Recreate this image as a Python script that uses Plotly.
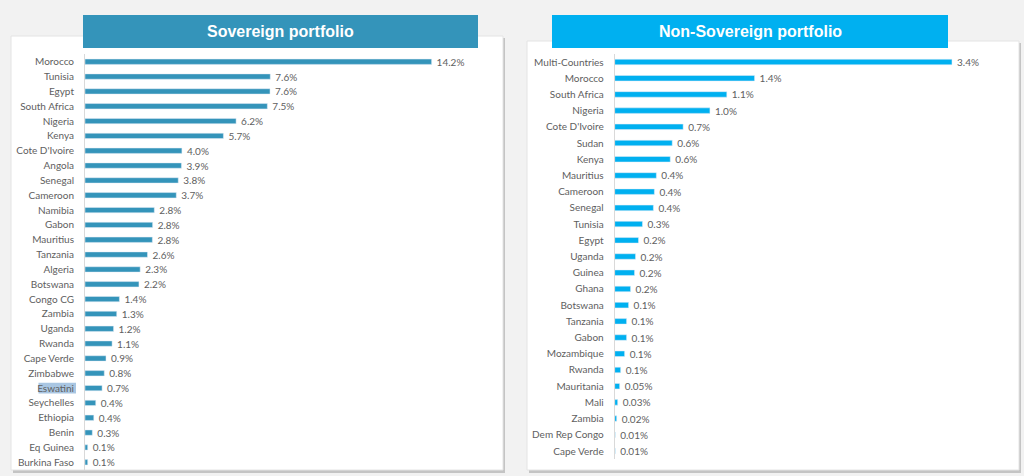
import plotly.graph_objects as go

sov_countries = ["Morocco", "Tunisia", "Egypt", "South Africa", "Nigeria", "Kenya",
                 "Cote D'Ivoire", "Angola", "Senegal", "Cameroon", "Namibia", "Gabon",
                 "Mauritius", "Tanzania", "Algeria", "Botswana", "Congo CG", "Zambia",
                 "Uganda", "Rwanda", "Cape Verde", "Zimbabwe", "Eswatini", "Seychelles",
                 "Ethiopia", "Benin", "Eq Guinea", "Burkina Faso"]
sov_values = [14.2, 7.59, 7.58, 7.47, 6.19, 5.67, 3.97, 3.95, 3.82, 3.74, 2.84, 2.77,
              2.76, 2.56, 2.26, 2.21, 1.41, 1.30, 1.17, 1.11, 0.86, 0.79, 0.70, 0.44,
              0.36, 0.30, 0.11, 0.11]
sov_labels = ["14.2%", "7.6%", "7.6%", "7.5%", "6.2%", "5.7%", "4.0%", "3.9%", "3.8%",
              "3.7%", "2.8%", "2.8%", "2.8%", "2.6%", "2.3%", "2.2%", "1.4%", "1.3%",
              "1.2%", "1.1%", "0.9%", "0.8%", "0.7%", "0.4%", "0.4%", "0.3%", "0.1%", "0.1%"]

non_countries = ["Multi-Countries", "Morocco", "South Africa", "Nigeria", "Cote D'Ivoire",
                 "Sudan", "Kenya", "Mauritius", "Cameroon", "Senegal", "Tunisia", "Egypt",
                 "Uganda", "Guinea", "Ghana", "Botswana", "Tanzania", "Gabon", "Mozambique",
                 "Rwanda", "Mauritania", "Mali", "Zambia", "Dem Rep Congo", "Cape Verde"]
non_values = [3.4, 1.41, 1.13, 0.96, 0.69, 0.58, 0.56, 0.42, 0.40, 0.39, 0.28, 0.24,
              0.21, 0.20, 0.16, 0.14, 0.12, 0.12, 0.10, 0.06, 0.05, 0.03, 0.02, 0.005, 0.005]
non_labels = ["3.4%", "1.4%", "1.1%", "1.0%", "0.7%", "0.6%", "0.6%", "0.4%", "0.4%",
              "0.4%", "0.3%", "0.2%", "0.2%", "0.2%", "0.2%", "0.1%", "0.1%", "0.1%",
              "0.1%", "0.1%", "0.05%", "0.03%", "0.02%", "0.01%", "0.01%"]

titles = ["Sovereign portfolio", "Non-Sovereign portfolio"]
SOV_COLOR = "#3494BA"
NON_COLOR = "#00B0F0"
TXT = "#606060"
FONT = "Lato"
GAP = "\u2002"

W, H = 1024, 476
def px(x):
    return x / W
def py(y):
    return 1 - y / H

fig = go.Figure()
fig.add_trace(go.Bar(
    x=sov_values, y=sov_countries, orientation="h", marker_color=SOV_COLOR,
    text=[GAP + s for s in sov_labels], textposition="outside", cliponaxis=False,
    constraintext="none",
    textfont=dict(family=FONT, size=10, color=TXT), width=0.36,
    xaxis="x", yaxis="y", hoverinfo="skip", showlegend=False))
fig.add_trace(go.Bar(
    x=non_values, y=non_countries, orientation="h", marker_color=NON_COLOR,
    text=[GAP + s for s in non_labels], textposition="outside", cliponaxis=False,
    constraintext="none",
    textfont=dict(family=FONT, size=10, color=TXT), width=0.34,
    xaxis="x2", yaxis="y2", hoverinfo="skip", showlegend=False))

n1 = len(sov_countries)
n2 = len(non_countries)
fig.update_layout(
    width=W, height=H, margin=dict(l=0, r=0, t=0, b=0),
    paper_bgcolor="#F2F2F2", plot_bgcolor="rgba(0,0,0,0)",
    font=dict(family=FONT, size=10, color=TXT),
    xaxis=dict(domain=[px(85), px(85 + 16 * 24.41)], range=[0, 16], visible=False),
    yaxis=dict(domain=[py(469.7), py(54.3)], range=[n1 - 0.5, -0.5], type="category",
               showline=True, linecolor="#D9D9D9", linewidth=1, ticks="",
               showgrid=False, ticklabelstandoff=8, anchor="x",
               tickfont=dict(family=FONT, size=10, color=TXT)),
    xaxis2=dict(domain=[px(614.7), px(614.7 + 3.8 * 99.2)], range=[0, 3.8], visible=False,
                anchor="y2"),
    yaxis2=dict(domain=[py(459.1), py(53.9)], range=[n2 - 0.5, -0.5], type="category",
                showline=True, linecolor="#D9D9D9", linewidth=1, ticks="",
                showgrid=False, ticklabelstandoff=8, anchor="x2",
                tickfont=dict(family=FONT, size=10, color=TXT)),
)

shapes = []
# cards with shadow
for (x0, y0, x1, y1) in [(11, 36, 503, 470), (527, 41, 1019, 470)]:
    shapes.append(dict(type="rect", xref="paper", yref="paper", layer="below",
                       x0=px(x0 + 2), x1=px(x1 + 2), y0=py(y1 + 3), y1=py(y0 + 2),
                       fillcolor="#C4C4C4", line_width=0))
    shapes.append(dict(type="rect", xref="paper", yref="paper", layer="below",
                       x0=px(x0), x1=px(x1), y0=py(y1), y1=py(y0),
                       fillcolor="#FFFFFF", line=dict(color="#E4E4E4", width=1)))
# headers
headers = [(83, 15, 478, 48, SOV_COLOR), (552, 15, 948, 48, NON_COLOR)]
for (x0, y0, x1, y1, c), t in zip(headers, titles):
    shapes.append(dict(type="rect", xref="paper", yref="paper", layer="above",
                       x0=px(x0), x1=px(x1), y0=py(y1), y1=py(y0),
                       fillcolor=c, line_width=0))
    fig.add_annotation(x=px((x0 + x1) / 2), y=py((y0 + y1) / 2), xref="paper", yref="paper",
                       text="<b>" + t + "</b>", showarrow=False, xanchor="center",
                       yanchor="middle",
                       font=dict(family="Liberation Sans", size=16, color="white"))
# selection highlight behind "Eswatini"
ei = sov_countries.index("Eswatini")
shapes.append(dict(type="rect", xref="paper", yref="y", layer="below",
                   x0=px(38.5), x1=px(76), y0=ei - 0.36, y1=ei + 0.36,
                   fillcolor="#A9C6E2", line_width=0))
fig.update_layout(shapes=shapes)

fig.write_html("out.html", config={"displayModeBar": False},
               post_script="document.body.style.margin='0px';"
                           "document.body.style.overflow='hidden';")
